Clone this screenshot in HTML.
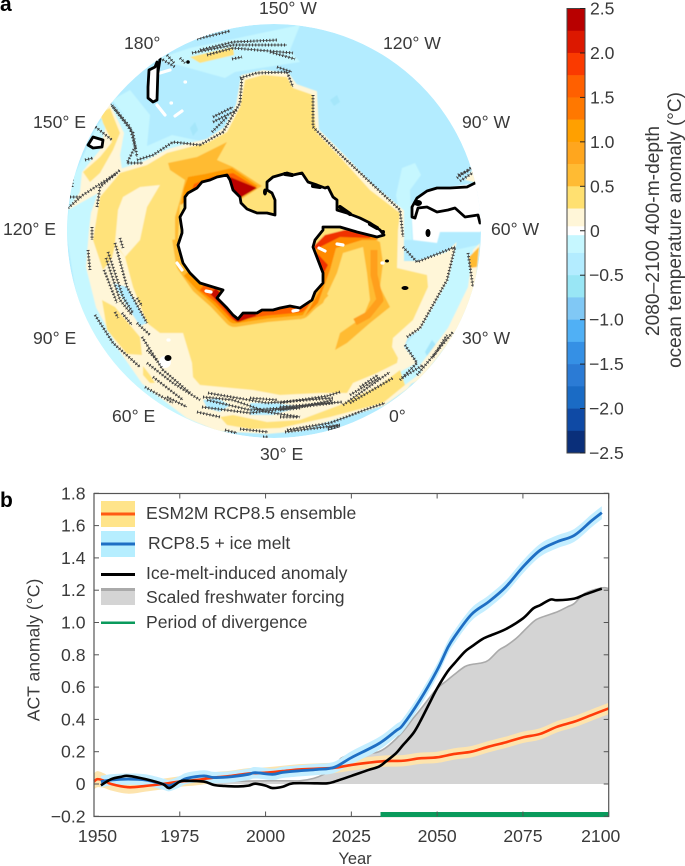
<!DOCTYPE html>
<html><head><meta charset="utf-8"><title>Ocean temperature anomaly</title>
<style>
html,body{margin:0;padding:0;background:#fff}
svg{display:block}
text{font-family:"Liberation Sans",sans-serif;font-size:17.6px;fill:#3a3a3a}
.st-a{fill:none;stroke:#3a3a3a;stroke-width:3;stroke-dasharray:1 2.2}
.st-b{fill:none;stroke:#444;stroke-width:.7}
.coast{fill:none;stroke:#000;stroke-width:2.8;stroke-linejoin:round;stroke-linecap:round}
</style></head><body>
<svg id="fig" width="685" height="866" viewBox="0 0 685 866" xmlns="http://www.w3.org/2000/svg">
<defs>
<clipPath id="disc"><circle cx="274" cy="231" r="207"/></clipPath>
<filter id="soft" x="-5%" y="-5%" width="110%" height="110%"><feGaussianBlur stdDeviation="0.5"/></filter>
<g id="stip">
<path d="M197 39L230 31M200 50L233 42L277 40M192 53L233 45L287 45M207 55L233 48L293 53M270 52L295 59M232 59L242 57M160 58L175 67M167 55L174 63M180 58L185 63"/>
<path d="M240 78L257 73L287 72L293 87M277 67L292 72M200 145L223 132L240 103L242 77M213 117L233 107M213 122L237 110M212 132L227 117"/>
<path d="M137 160L153 155L173 142L200 145M110 103L130 127L135 147L127 163L143 163M113 107L133 133L137 157M93 125L112 140M85 160L93 158M73 170L72 187M68 208L83 195L117 173M70 197L80 197M97 207L100 187L120 170M92 227L92 240"/>
<path d="M88 250L90 270M120 238L123 248M115 243L127 287L147 323M108 252L123 297L133 313M106 258L120 300L132 315M104 270L117 303M137 298L142 306M95 315L113 343L140 367M115 312L118 318M122 313L132 325M137 323L150 335M142 337L163 370L190 393M147 350L157 360M147 363L173 383L200 400M153 377L183 400M145 387L173 403M167 397L187 407M197 412L220 417"/>
<path d="M203 397L233 400L267 412L300 417M208 393L267 403L333 398M207 400L250 410L300 407L333 400M250 398L277 400M202 407L250 413L333 403M225 430L237 433M240 429L268 432M285 432L340 425M263 437L268 437M328 430L340 427"/>
<path d="M340 392L327 396M280 403L327 396M280 407L342 402M280 410L300 408M280 417L298 417M350 395L380 377M343 405L390 372M350 403L393 378M360 387L378 375M287 430L330 423L370 408L385 403M328 428L340 425"/>
<path d="M407 337L420 328L447 280L455 247M405 345L417 363L400 380M402 378L423 365M417 375L453 332M433 357L447 335M403 247L417 262L455 247M468 253L473 287"/>
<path d="M313 95L313 127L343 157L400 210L403 237M457 178L472 167M458 175L470 170M460 181L474 172"/>
</g>
</defs>

<g>
<g clip-path="url(#disc)">
<circle cx="274" cy="231" r="207" fill="#b3ecff"/>
<g filter="url(#soft)">
<path fill="#c6f7ff" d="M66 231L72 180L96 128L112 104L135 126L147 160L120 170L100 190L92 232L95 300L125 350L150 385L190 417L225 440L150 440L80 320Z"/>
<path fill="#c6f7ff" d="M112 100L130 90L150 115L147 146L172 135L205 142L180 150L150 162L133 165L136 130Z"/>
<path fill="#c6f7ff" d="M160 58L190 48L300 25L290 50L300 62L235 72L225 78L160 60Z"/>
<path fill="#c6f7ff" d="M400 217L396 195L402 168L415 163L421 175L410 190L412 240L400 240Z"/>
<path fill="#c6f7ff" d="M455 250L478 245L470 290L450 330L420 375L405 345L420 328L447 280Z"/>
<path fill="#a5e6fa" d="M330 100L337 95L340 102L334 106Z"/>
<path fill="#a5e6fa" d="M425 352L432 340L436 345L428 358Z"/>
<path fill="#a5e6fa" d="M190 128L195 122L198 130L193 136Z"/>
<path fill="#fff6d8" stroke="#fff6d8" stroke-width="2" d="M90 230L92 213L100 190L120 170L145 162L168 150L190 144L207 140L225 128L237 105L242 76L263 71L288 74L296 85L316 92L318 130L343 155L372 185L403 211L403 262L417 262L447 253L455 245L447 280L420 328L407 337L403 347L417 365L420 370L407 388L383 405L330 420L300 430L267 433L217 430L187 417L143 383L120 350L97 307L87 267Z"/>
<path fill="#fff6d8" d="M68 210L80 192L82 172L100 150L106 125L97 113L110 104L124 133L120 155L122 170L100 192Z"/>
<path fill="#fff6d8" d="M480 243L473 250L468 287L448 328L415 372L406 386L420 380L455 335L475 290Z"/>
<path fill="#fff6d8" d="M465 180L475 167L478 183Z"/>
<path fill="#c6f7ff" d="M398 373L418 362L422 372L405 385L395 380Z"/>
<path fill="#b3ecff" d="M113 283L127 287L147 323L140 326L123 300Z"/>
<path fill="#b3ecff" d="M203 400L217 398L230 405L220 412L207 408Z"/>
<path fill="#b3ecff" d="M250 403L277 403L300 407L273 415L250 415Z"/>
<path fill="#ffe27a" d="M120 173L147 165L167 153L190 147L207 143L227 132L240 107L245 80L263 75L287 77L293 88L313 95L315 123L317 133L340 157L370 190L400 213L398 230L397 268L427 275L428 287L413 320L393 338L392 347L398 358L397 363L377 373L353 383L347 393L320 393L280 395L253 390L200 385L193 377L192 363L183 333L160 333L147 323L133 287L125 257L115 245L112 258L103 270L93 240L100 197Z"/>
<path fill="#fff6d8" d="M118 210L123 197L140 187L160 185L147 207L140 240L125 257L115 243Z"/>
<path fill="#ffe27a" d="M100 113L110 108L120 133L113 150L100 173L90 182L83 172L100 157L112 142L103 123Z"/>
<path fill="#ffe27a" d="M102 300L115 307L140 337L142 355L127 354L107 330Z"/>
<path fill="#ffe27a" d="M143 366L150 375L155 383L150 383L143 375Z"/>
<path fill="#ffe27a" d="M220 417L233 415L267 422L300 420L340 405L380 385L400 370L405 385L383 403L330 417L280 428L250 429L227 425Z"/>
<path fill="#ffe27a" d="M190 57L233 47L234 55L200 63Z"/>
<path fill="#ffbb33" d="M469 257L479 247L477 267L470 268Z"/>
<path fill="#ffbb33" d="M168 163L197 157L227 142L217 160L233 167L262 186L240 200L190 195L180 205L178 240L175 240L175 217L180 200L185 180L170 170Z"/>
<path fill="#ff9a00" d="M188 177L205 174L232 168L258 186L240 196L192 197L181 205L184 188Z"/>
<path fill="#ff6000" d="M194 184L212 177L233 173L256 187L240 195L190 196Z"/>
<path fill="#bb0000" d="M230 177L257 188L240 198L232 190Z"/>
<polyline fill="none" stroke="#ffbb33" stroke-width="24" stroke-linejoin="round" points="184,238 188,263 202,283 219,298 235,315 267,310 300,307 320,287"/>
<polyline fill="none" stroke="#ff9a00" stroke-width="17" stroke-linejoin="round" points="190,270 202,283 219,298 235,315 267,310 300,307 320,287"/>
<polyline fill="none" stroke="#ff6000" stroke-width="11" stroke-linejoin="round" points="203,286 219,298 235,315 267,310 300,307 320,287"/>
<polyline fill="none" stroke="#c81000" stroke-width="8" stroke-linejoin="round" points="213,291 225,303 238,318 255,312"/>
<path fill="#ffbb33" d="M300 320L323 303L337 273L343 253L363 247L367 273L370 300L363 317L340 333L335 350L347 343L370 323L390 307L380 287L383 263L380 242L360 232L333 237L315 250L318 290Z"/>
<polyline fill="none" stroke="#ff9f1a" stroke-width="7" stroke-linejoin="round" points="374,250 374,275 380,300 368,315 355,322"/>
<path fill="#ff8a00" d="M305 316L318 303L330 270L336 248L362 240L378 240L372 232L340 232L316 248L320 290Z"/>
<path fill="#f03000" d="M314 250L328 243L340 237L370 238L372 232L345 230L325 235L314 246L320 280L328 265Z"/>
<path fill="#fff" d="M411 205L413 240L437 243L440 232L480 232L495 225L495 170L477 183L450 187L427 190Z"/>
</g>
<path fill="none" stroke="#fff" stroke-width="3.2" stroke-linecap="round" d="M157 105L165 115M175 116L182 111M160 73L170 70M185 82L185.500 82M171 103L171.500 103M168 340L169 340M382 263L383 263M177 263L182 270M206 291L211 292M293 311L298 310M337 244L343 245M319 248L325 251"/>
<circle cx="165" cy="362" r="6" fill="#fff"/>
<use href="#stip" class="st-a"/>
<use href="#stip" class="st-b"/>
<path fill="#fff" stroke="#000" stroke-width="2.8" stroke-linejoin="round" d="M188 193L197 188L202 182L210 180L217 177L227 175L230 180L233 190L240 197L241 203L247 209L257 213L267 213L275 215L275 200L272 193L267 190L267 182L273 177L287 173L293 175L302 173L308 182L317 185L325 188L328 187L333 197L337 200L337 210L347 213L360 218L370 223L380 230L384 235L377 237L357 232L340 227L323 227L323 230L315 240L313 247L318 260L323 273L323 283L315 292L312 300L300 308L290 306L280 308L273 310L262 310L257 313L243 313L238 319L233 315L227 308L217 298L223 290L213 287L200 283L190 273L183 263L178 245L182 233L182 230L180 217L185 208L185 197Z"/>
<path class="coast" d="M477 182L467 187L450 188L437 188L427 191L417 198L412 207L412 217L415 218L418 208L427 207L437 212L448 210L455 208L465 217L478 215L480 223"/>
<path class="coast" style="stroke-width:4" d="M340 207L350 214M370 224L377 228M313 186L320 187M285 174L292 175"/>
<ellipse cx="418" cy="203" rx="4" ry="3" fill="#000"/>
<path class="coast" style="fill:#fff" d="M157 62L158 68L157 100L153 102L148 98L148 87L149 70L155 67Z"/>
<path class="coast" d="M160 59L158 72"/>
<path class="coast" style="fill:#fff" d="M88 145L93 137L103 140L102 147L93 148Z"/>
<circle cx="188" cy="62" r="1.800" fill="#000"/>
<ellipse cx="265" cy="192" rx="2" ry="3.500" fill="#000"/>
<ellipse cx="168" cy="358" rx="3.500" ry="3" fill="#000"/>
<ellipse cx="405" cy="288" rx="3.500" ry="2" fill="#000"/>
<ellipse cx="387" cy="261" rx="2" ry="1.500" fill="#000"/>
<ellipse cx="428" cy="233" rx="2.500" ry="4" fill="#000"/>
<ellipse cx="383" cy="232" rx="2" ry="2" fill="#000"/>
</g>
<text x="259" y="14">150° W</text>
<text x="383" y="49">120° W</text>
<text x="462" y="128">90° W</text>
<text x="491" y="235">60° W</text>
<text x="462" y="344">30° W</text>
<text x="389" y="422">0°</text>
<text x="260" y="460">30° E</text>
<text x="112" y="422">60° E</text>
<text x="33" y="344">90° E</text>
<text x="3" y="235">120° E</text>
<text x="33" y="128">150° E</text>
<text x="124" y="49">180°</text>
</g>
<text x="0" y="11" style="font-weight:bold;font-size:21px;fill:#000">a</text>
<text x="0" y="507" style="font-weight:bold;font-size:21px;fill:#000">b</text>

<g id="cbar"></g>
<text transform="translate(659,231) rotate(-90)" text-anchor="middle" style="font-size:19.2px">2080–2100 400-m-depth</text>
<text transform="translate(681,230) rotate(-90)" text-anchor="middle" style="font-size:19px">ocean temperature anomaly (°C)</text>

<g id="chart"></g>
<text x="146" y="519">ESM2M RCP8.5 ensemble</text>
<text x="148" y="549">RCP8.5 + ice melt</text>
<text x="146" y="579">Ice-melt-induced anomaly</text>
<text x="146" y="603">Scaled freshwater forcing</text>
<text x="146" y="628">Period of divergence</text>
<rect x="101" y="501" width="34" height="26" fill="#ffe48a"/>
<rect x="101" y="512.500" width="34" height="3" fill="#ff5a14"/>
<rect x="101" y="531" width="34" height="26" fill="#b6eeff"/>
<rect x="101" y="542.500" width="34" height="3" fill="#1f6fc4"/>
<rect x="101" y="573" width="34" height="3" fill="#000"/>
<rect x="101" y="588" width="34" height="17" fill="#d4d4d4"/>
<rect x="101" y="588" width="34" height="3" fill="#aaa"/>
<rect x="101" y="621.500" width="34" height="2.500" fill="#0a9a5c"/>
<text x="355" y="864" text-anchor="middle" style="font-size:16.5px">Year</text>
<text transform="translate(39.500,650) rotate(-90)" text-anchor="middle">ACT anomaly (°C)</text>
</svg>

<script>
// Colorbar data
const cbarLevels = [2.5,2.25,2,1.75,1.5,1.25,1,0.75,0.5,0.25,0,-0.25,-0.5,-0.75,-1,-1.25,-1.5,-1.75,-2,-2.25];
const cbarColors = ['#b80000','#dc1800','#fa3a00','#ff6000','#ff7800','#ffa000','#ffa61e','#ffbb33','#ffe070','#fff6d8','#c6f7ff','#b3ecff','#99e6f5','#80c8f5','#50b0f5','#3590e5','#2b7bd5','#1a6bc5','#0f4aa5','#0a2f7a'];
const cbarTicks = [2.5,2,1.5,1,0.5,0,-0.5,-1,-1.5,-2,-2.5];
const cbarTickLabels = ['2.5','2.0','1.5','1.0','0.5','0','−0.5','−1.0','−1.5','−2.0','−2.5'];

// Chart data: years and values for each series
const ensembleYears = [1950,1951,1953,1955,1960,1965,1970,1975,1980,1985,1990,1995,2000,2005,2010,2015,2020,2025,2030,2035,2040,2045,2050,2055,2060,2065,2070,2075,2080,2085,2090,2095,2100];
const ensembleValues = [0.015,0.03,0.02,0,-0.02,-0.012,0,0.015,0.025,0.04,0.05,0.065,0.07,0.08,0.09,0.095,0.10,0.118,0.132,0.142,0.144,0.159,0.165,0.186,0.20,0.231,0.258,0.289,0.31,0.355,0.386,0.427,0.468];
const ensembleSpread = [0.05,0.05,0.045,0.04,0.04,0.035,0.033,0.033,0.033,0.033,0.033,0.033,0.033,0.033,0.033,0.033,0.033,0.035,0.035,0.035,0.035,0.035,0.035,0.035,0.035,0.035,0.035,0.035,0.035,0.035,0.035,0.035,0.035];
const meltYears = [1952,1955,1960,1965,1970,1972,1975,1977,1982,1985,1990,1995,1997,2002,2005,2010,2015,2020,2025,2033,2038,2040,2045,2050,2053,2055,2060,2065,2070,2075,2080,2085,2090,2095,2098];
const meltValues = [0.015,0.025,0.03,0.025,0,-0.01,0.015,0.035,0.05,0.04,0.045,0.06,0.07,0.06,0.072,0.082,0.09,0.103,0.163,0.25,0.33,0.365,0.52,0.705,0.84,0.91,1.05,1.128,1.22,1.344,1.447,1.50,1.54,1.63,1.68];
const meltSpread = [0.035,0.035,0.035,0.035,0.035,0.035,0.035,0.035,0.035,0.035,0.035,0.035,0.035,0.035,0.035,0.035,0.035,0.035,0.04,0.04,0.04,0.04,0.04,0.04,0.04,0.04,0.04,0.04,0.04,0.04,0.04,0.04,0.04,0.04,0.04];
const anomalyYears = [1952,1955,1958,1960,1965,1970,1972,1975,1977,1982,1985,1988,1992,1995,1997,2000,2002,2005,2008,2015,2018,2020,2025,2030,2033,2035,2038,2040,2043,2045,2048,2050,2053,2055,2058,2060,2063,2065,2070,2075,2078,2080,2083,2085,2090,2093,2098];
const anomalyValues = [-0.008,0.03,0.045,0.05,0.03,0,-0.025,0.015,0.02,0.015,-0.006,-0.012,-0.015,-0.01,0.002,-0.01,-0.025,-0.017,0.004,0.004,0.004,0.014,0.05,0.087,0.107,0.138,0.19,0.24,0.313,0.385,0.51,0.592,0.695,0.746,0.818,0.85,0.895,0.915,0.959,1.025,1.087,1.107,1.142,1.138,1.148,1.173,1.21];
const forcingYears = [1950,1975,1985,2000,2005,2010,2014,2017,2020,2022,2025,2030,2033,2036,2040,2043,2045,2048,2050,2053,2055,2058,2060,2063,2065,2068,2070,2073,2075,2078,2080,2085,2088,2090,2093,2098,2100];
const forcingValues = [0,0.01,0.015,0.02,0.02,0.02,0.035,0.06,0.10,0.159,0.18,0.19,0.20,0.24,0.324,0.406,0.458,0.54,0.592,0.643,0.678,0.726,0.74,0.75,0.767,0.829,0.854,0.901,0.942,1.004,1.029,1.066,1.097,1.118,1.18,1.214,1.21];
const divergencePeriod = [2033.5,2100];
const yTicks = [-0.2,0,0.2,0.4,0.6,0.8,1,1.2,1.4,1.6,1.8];
const yTickLabels = ['−0.2','0','0.2','0.4','0.6','0.8','1.0','1.2','1.4','1.6','1.8'];
const xTicks = [1950,1975,2000,2025,2050,2075,2100];
const xTickLabels = ['1950','1975','2000','2025','2050','2075','2100'];

const NS = 'http://www.w3.org/2000/svg';
function mk(parent, tag, attrs) {
  const el = document.createElementNS(NS, tag);
  for (const k in attrs) el.setAttribute(k, attrs[k]);
  parent.appendChild(el);
  return el;
}

// Colorbar
const cbar = document.getElementById('cbar');
const cbX = 567, cbW = 18, cbTop = 8.5, cbBottom = 453;
function cbY(v) { return cbTop + (2.5 - v) * (cbBottom - cbTop) / 5; }
cbarLevels.forEach(function (lvl, i) {
  const cell = mk(cbar, 'rect', {x: cbX, y: cbY(lvl), width: cbW, height: cbY(lvl - 0.25) - cbY(lvl) + 0.3, fill: cbarColors[i]});
  
  
});
const cbZero = mk(cbar, 'rect', {x: cbX, y: cbY(0.05), width: cbW, height: cbY(-0.05) - cbY(0.05), fill: '#fff'});


const cbFrame = mk(cbar, 'rect', {x: cbX, y: cbTop, width: cbW, height: cbBottom - cbTop, fill: 'none', stroke: '#444', 'stroke-width': 1});


cbarTicks.forEach(function (v, i) {
  const t = mk(cbar, 'line', {x1: cbX + cbW - 5, x2: cbX + cbW, y1: cbY(v), y2: cbY(v), stroke: '#222', 'stroke-width': 1});
  
  
  const lab = mk(cbar, 'text', {x: v < 0 ? 589 : 590, y: cbY(v) + 6});
  lab.textContent = cbarTickLabels[i];
  
  
});

// Chart axes
const chart = document.getElementById('chart');
const plotL = 94, plotR = 608.7, plotT = 493.5, plotB = 816.5;
function xs(y) { return plotL + (y - 1950) * (plotR - plotL) / 150; }
function ys(v) { return 784 - v * 161.5; }
function smooth(pts) {
  let d = 'M' + pts[0][0].toFixed(2) + ' ' + pts[0][1].toFixed(2);
  for (let i = 0; i < pts.length - 1; i++) {
    const p0 = pts[Math.max(i - 1, 0)], p1 = pts[i], p2 = pts[i + 1], p3 = pts[Math.min(i + 2, pts.length - 1)];
    const c1x = p1[0] + (p2[0] - p0[0]) / 6, c1y = p1[1] + (p2[1] - p0[1]) / 6;
    const c2x = p2[0] - (p3[0] - p1[0]) / 6, c2y = p2[1] - (p3[1] - p1[1]) / 6;
    d += 'C' + c1x.toFixed(2) + ' ' + c1y.toFixed(2) + ' ' + c2x.toFixed(2) + ' ' + c2y.toFixed(2) + ' ' + p2[0].toFixed(2) + ' ' + p2[1].toFixed(2);
  }
  return d;
}
function linePts(years, vals) { return years.map(function (y, i) { return [xs(y), ys(vals[i])]; }); }
function bandPath(years, vals, spread) {
  const up = years.map(function (y, i) { return [xs(y), ys(vals[i] + spread[i])]; });
  const lo = years.map(function (y, i) { return [xs(y), ys(vals[i] - spread[i])]; }).reverse();
  return smooth(up) + 'L' + smooth(lo).slice(1) + 'Z';
}

const forcingArea = mk(chart, 'path', {d: smooth(linePts(forcingYears, forcingValues)) + 'L' + xs(forcingYears[forcingYears.length - 1]) + ' ' + ys(0) + 'L' + xs(forcingYears[0]) + ' ' + ys(0) + 'Z', fill: '#d4d4d4'});


const forcingLine = mk(chart, 'path', {d: smooth(linePts(forcingYears, forcingValues)), fill: 'none', stroke: '#aaa', 'stroke-width': 1.6});


const ensembleBand = mk(chart, 'path', {d: bandPath(ensembleYears, ensembleValues, ensembleSpread), fill: '#fde4ae'});


const meltBand = mk(chart, 'path', {d: bandPath(meltYears, meltValues, meltSpread), fill: '#c4eeff'});


const ensembleLine = mk(chart, 'path', {d: smooth(linePts(ensembleYears, ensembleValues)), fill: 'none', stroke: '#ff3c0a', 'stroke-width': 2.6});


const meltLine = mk(chart, 'path', {d: smooth(linePts(meltYears, meltValues)), fill: 'none', stroke: '#1f6fc4', 'stroke-width': 2.8});


const anomalyLine = mk(chart, 'path', {d: smooth(linePts(anomalyYears, anomalyValues)), fill: 'none', stroke: '#000', 'stroke-width': 2.6});



const frame = mk(chart, 'rect', {x: plotL, y: plotT, width: plotR - plotL, height: plotB - plotT, fill: 'none', stroke: '#555', 'stroke-width': 1.2});


const divBar = mk(chart, 'rect', {x: xs(divergencePeriod[0]), y: 812, width: xs(divergencePeriod[1]) - xs(divergencePeriod[0]), height: 5, fill: '#0a9a5c'});



yTicks.forEach(function (v, i) {
  [[plotL, plotL + 5], [plotR - 5, plotR]].forEach(function (r) {
    const t = mk(chart, 'line', {x1: r[0], x2: r[1], y1: ys(v), y2: ys(v), stroke: '#555', 'stroke-width': 1});
    
    
  });
  const lab = mk(chart, 'text', {x: 85.5, y: ys(v) + 6, 'text-anchor': 'end'});
  lab.textContent = yTickLabels[i];
  
  
});
xTicks.forEach(function (y, i) {
  [[plotT, plotT + 5], [plotB - 5, plotB]].forEach(function (r) {
    const t = mk(chart, 'line', {x1: xs(y), x2: xs(y), y1: r[0], y2: r[1], stroke: '#555', 'stroke-width': 1});
    
    
  });
  const shift = i === 0 ? 3.5 : (i === xTicks.length - 1 ? -8 : 0);
  const lab = mk(chart, 'text', {x: xs(y) + shift, y: 842, 'text-anchor': 'middle'});
  lab.textContent = xTickLabels[i];
  
  
});
</script>
</body></html>
